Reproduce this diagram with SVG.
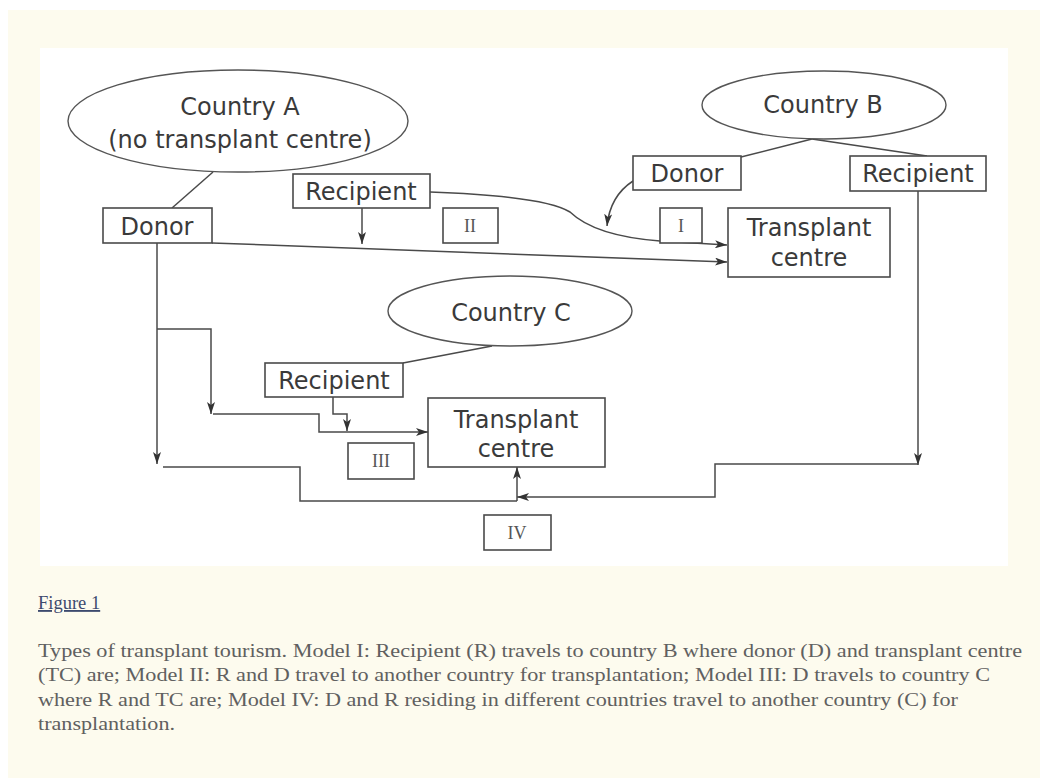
<svg xmlns="http://www.w3.org/2000/svg" width="1040" height="778" viewBox="0 0 1040 778">
<style>
.lbl{font-family:"DejaVu Sans","Verdana",sans-serif;font-size:24px;fill:#3a3a3a;text-anchor:middle}
.num{font-family:"Liberation Serif","Times New Roman",serif;font-size:18px;fill:#555;text-anchor:middle}
.box{fill:#fff;stroke:#4a4a4a;stroke-width:1.6}
.ell{fill:#fff;stroke:#555;stroke-width:1.4}
.ln{fill:none;stroke:#4a4a4a;stroke-width:1.5}
.arr{marker-end:url(#ah)}
.cap{font-family:"Liberation Serif","Times New Roman",serif;font-size:18.5px;fill:#606060}
</style>
<defs>
<marker id="ah" viewBox="0 0 12 8" refX="12" refY="4" markerWidth="12" markerHeight="8" markerUnits="userSpaceOnUse" orient="auto">
<path d="M0,0 L12,4 L0,8 L3,4 z" fill="#333"/>
</marker>
</defs>
<rect x="0" y="0" width="1040" height="778" fill="#fff"/>
<rect x="8" y="10" width="1032" height="768" fill="#fdfbee"/>
<rect x="40" y="48" width="968" height="518" fill="#fff"/>

<g id="connectors">
<line class="ln" x1="213" y1="172" x2="172" y2="208"/>
<line class="ln" x1="812" y1="139" x2="741" y2="157"/>
<line class="ln" x1="812" y1="139" x2="927" y2="156"/>
<line class="ln" x1="492" y1="346" x2="403" y2="363"/>
<line class="ln arr" x1="362" y1="208" x2="362" y2="244"/>
<path class="ln arr" d="M430,192 Q545,196 570,212 Q595,236 660,241 L727,245"/>
<path class="ln arr" d="M633,181 Q610,196 607,226"/>
<line class="ln arr" x1="212" y1="243" x2="727" y2="262"/>
<line class="ln arr" x1="157" y1="243" x2="157" y2="464"/>
<polyline class="ln arr" points="157,329 211,329 211,414"/>
<polyline class="ln arr" points="213,414 319,414 319,432 428,432"/>
<polyline class="ln arr" points="333,397 333,414 347,414 347,431"/>
<polyline class="ln" points="163,467 300,467 300,501 517,501"/>
<line class="ln arr" x1="918" y1="191" x2="918" y2="465"/>
<polyline class="ln arr" points="918,464 715,464 715,497 517,497"/>
<line class="ln arr" x1="517" y1="501" x2="517" y2="467"/>
</g>

<g id="countryA">
<ellipse class="ell" cx="238" cy="121" rx="170" ry="51"/>
<text class="lbl" x="240" y="115">Country A</text>
<text class="lbl" x="240" y="148">(no transplant centre)</text>
</g>
<g id="countryB">
<ellipse class="ell" cx="824" cy="105" rx="122" ry="34"/>
<text class="lbl" x="823" y="113">Country B</text>
</g>
<g id="countryC">
<ellipse class="ell" cx="510" cy="311" rx="122" ry="35"/>
<text class="lbl" x="511" y="321">Country C</text>
</g>

<g id="donorA">
<rect class="box" x="103" y="208" width="109" height="35"/>
<text class="lbl" x="157" y="235">Donor</text>
</g>
<g id="recipientA">
<rect class="box" x="293" y="174" width="137" height="34"/>
<text class="lbl" x="361" y="200">Recipient</text>
</g>
<g id="donorB">
<rect class="box" x="633" y="156" width="108" height="34"/>
<text class="lbl" x="687" y="182">Donor</text>
</g>
<g id="recipientB">
<rect class="box" x="850" y="156" width="136" height="35"/>
<text class="lbl" x="918" y="182">Recipient</text>
</g>
<g id="tcB">
<rect class="box" x="728" y="208" width="162" height="69"/>
<text class="lbl" x="809" y="236">Transplant</text>
<text class="lbl" x="809" y="266">centre</text>
</g>
<g id="recipientC">
<rect class="box" x="265" y="363" width="138" height="34"/>
<text class="lbl" x="334" y="389">Recipient</text>
</g>
<g id="tcC">
<rect class="box" x="428" y="398" width="177" height="69"/>
<text class="lbl" x="516" y="428">Transplant</text>
<text class="lbl" x="516" y="457">centre</text>
</g>

<g id="modelI">
<rect class="box" x="660" y="208" width="42" height="35"/>
<text class="num" x="681" y="232">I</text>
</g>
<g id="modelII">
<rect class="box" x="443" y="208" width="55" height="35"/>
<text class="num" x="470" y="232">II</text>
</g>
<g id="modelIII">
<rect class="box" x="348" y="443" width="66" height="36"/>
<text class="num" x="381" y="467">III</text>
</g>
<g id="modelIV">
<rect class="box" x="484" y="515" width="67" height="35"/>
<text class="num" x="517" y="539">IV</text>
</g>

<g id="caption">
<text class="cap" x="38" y="609" style="fill:#3d4a6e;text-decoration:underline">Figure 1</text>
<text class="cap" x="38" y="657" textLength="984" lengthAdjust="spacingAndGlyphs">Types of transplant tourism. Model I: Recipient (R) travels to country B where donor (D) and transplant centre</text>
<text class="cap" x="38" y="681" textLength="952" lengthAdjust="spacingAndGlyphs">(TC) are; Model II: R and D travel to another country for transplantation; Model III: D travels to country C</text>
<text class="cap" x="38" y="706" textLength="920" lengthAdjust="spacingAndGlyphs">where R and TC are; Model IV: D and R residing in different countries travel to another country (C) for</text>
<text class="cap" x="38" y="730" textLength="137" lengthAdjust="spacingAndGlyphs">transplantation.</text>
</g>
</svg>
